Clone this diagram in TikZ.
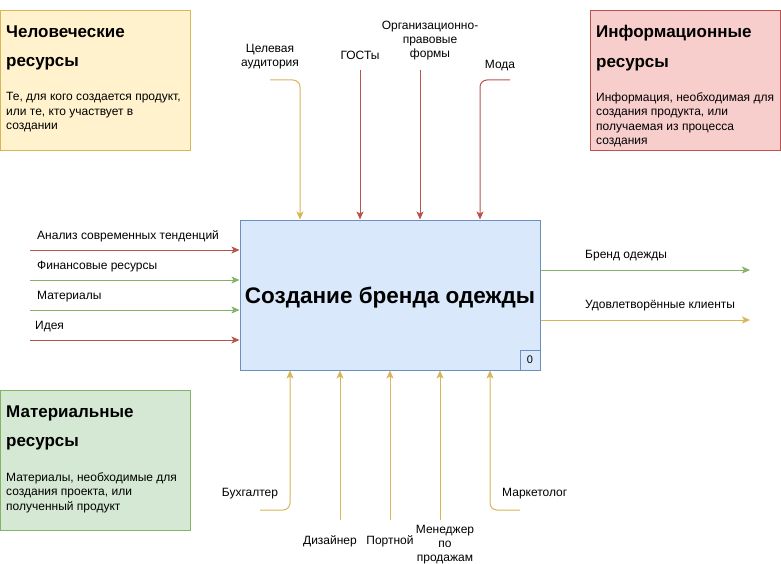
\documentclass[tikz,border=0pt]{standalone}
\usepackage{fontspec}
\setmainfont{Liberation Sans}
\usetikzlibrary{arrows.meta,calc}

\definecolor{yfill}{HTML}{FFF2CC}
\definecolor{ydraw}{HTML}{D6B656}
\definecolor{rfill}{HTML}{F8CECC}
\definecolor{rdraw}{HTML}{B85450}
\definecolor{gfill}{HTML}{D5E8D4}
\definecolor{gdraw}{HTML}{82B366}
\definecolor{bfill}{HTML}{DAE8FC}
\definecolor{bdraw}{HTML}{6C8EBF}

\tikzset{
  lbl/.style={inner sep=0pt, font=\fontsize{12}{14}\selectfont},
  mlbl/.style={lbl, align=center, anchor=north},
  heading/.style={inner sep=0pt, anchor=north west, align=left,
    font=\fontsize{17}{29.5}\selectfont\bfseries},
  bodytext/.style={inner sep=0pt, anchor=north west, align=left,
    font=\fontsize{12}{14.5}\selectfont},
  resbox/.style={draw, line width=1pt, minimum width=190pt, minimum height=140pt,
    anchor=north west, inner sep=0pt},
  flow/.style={line width=1pt, -{Stealth[length=8pt,width=7pt,inset=2pt]}},
  redflow/.style={flow, draw=rdraw, -{Stealth[length=8pt,width=7pt,inset=2pt,fill=rdraw]}},
  greenflow/.style={flow, draw=gdraw, -{Stealth[length=8pt,width=7pt,inset=2pt,fill=gdraw]}},
  yellowflow/.style={flow, draw=ydraw, -{Stealth[length=8pt,width=7pt,inset=2pt,fill=ydraw]}},
}

\begin{document}
\begin{tikzpicture}[x=1pt, y=-1pt]
\useasboundingbox (0,0) rectangle (781,564);

% resource legend boxes
\node[resbox, fill=yfill, draw=ydraw] (human) at (0,10) {};
\node[heading] (humanh) at (6,25.3) {Человеческие\\ресурсы};
\node[bodytext] (humanb) at (6,92.4) {Те, для кого создается продукт,\\или те, кто участвует в\\создании};

\node[resbox, fill=rfill, draw=rdraw] (info) at (590,10) {};
\node[heading] (infoh) at (596,25.3) {Информационные\\ресурсы};
\node[bodytext] (infob) at (596,92.4) {Информация, необходимая для\\создания продукта, или\\получаемая из процесса\\создания};

\node[resbox, fill=gfill, draw=gdraw] (mat) at (0,390) {};
\node[heading] (math) at (6,405.3) {Материальные\\ресурсы};
\node[bodytext] (matb) at (6,472.4) {Материалы, необходимые для\\создания проекта, или\\полученный продукт};

% main function block
\node[draw=bdraw, fill=bfill, line width=1pt, minimum width=300pt, minimum height=150pt,
      inner sep=0pt] (main) at (390,295) {};
\node[inner sep=0pt, anchor=base, font=\fontsize{22.5}{26}\selectfont\bfseries] (title)
      at (390,303.8) {Создание бренда одежды};
\node[draw=bdraw, line width=1pt, minimum width=20pt, minimum height=20pt, inner sep=0pt,
      anchor=south east, font=\fontsize{11}{13}\selectfont] (num) at (main.south east) {0};

% inputs
\coordinate (in1) at (30,250);
\coordinate (in2) at (30,280);
\coordinate (in3) at (30,310);
\coordinate (in4) at (30,340);
\draw[redflow]   (in1) -- (in1 -| main.west);
\draw[greenflow] (in2) -- (in2 -| main.west);
\draw[greenflow] (in3) -- (in3 -| main.west);
\draw[redflow]   (in4) -- (in4 -| main.west);
\node[lbl, anchor=base west] (lin1) at (37,239.3) {Анализ современных тенденций};
\node[lbl, anchor=base west] (lin2) at (37,269.3) {Финансовые ресурсы};
\node[lbl, anchor=base west] (lin3) at (37,299.3) {Материалы};
\node[lbl, anchor=base west] (lin4) at (35,329.3) {Идея};

% outputs
\coordinate (out1) at (750,270);
\coordinate (out2) at (750,320);
\draw[greenflow]  (out1 -| main.east) -- (out1);
\draw[yellowflow] (out2 -| main.east) -- (out2);
\node[lbl, anchor=base west] (lout1) at (585,258.3) {Бренд одежды};
\node[lbl, anchor=base west] (lout2) at (585,308.5) {Удовлетворённые клиенты};

% controls
\coordinate (ct1) at (270,80);
\coordinate (ct1k) at (300,80);
\coordinate (ct2) at (360,70);
\coordinate (ct3) at (420,70);
\coordinate (ct4) at (510,80);
\coordinate (ct4k) at (480,80);
\draw[yellowflow, rounded corners=7pt] (ct1) -- (ct1k) -- (ct1k |- main.north);
\draw[redflow] (ct2) -- (ct2 |- main.north);
\draw[redflow] (ct3) -- (ct3 |- main.north);
\draw[redflow, rounded corners=7pt] (ct4) -- (ct4k) -- (ct4k |- main.north);
\node[mlbl] (lct1) at (270,43.7) {Целевая\\аудитория};
\node[lbl, anchor=base] (lct2) at (360,59.3) {ГОСТы};
\node[mlbl] (lct3) at (430,21.4) {Организационно-\\правовые\\формы};
\node[lbl, anchor=base] (lct4) at (500,68.3) {Мода};

% mechanisms
\coordinate (mc1) at (260,510);
\coordinate (mc1k) at (290,510);
\coordinate (mc2) at (340,520);
\coordinate (mc3) at (390,520);
\coordinate (mc4) at (440,520);
\coordinate (mc5) at (520,510);
\coordinate (mc5k) at (490,510);
\draw[yellowflow, rounded corners=7pt] (mc1) -- (mc1k) -- (mc1k |- main.south);
\draw[yellowflow] (mc2) -- (mc2 |- main.south);
\draw[yellowflow] (mc3) -- (mc3 |- main.south);
\draw[yellowflow] (mc4) -- (mc4 |- main.south);
\draw[yellowflow, rounded corners=7pt] (mc5) -- (mc5k) -- (mc5k |- main.south);
\node[lbl, anchor=base] (lmc1) at (250,496.5) {Бухгалтер};
\node[lbl, anchor=base] (lmc2) at (330,544.3) {Дизайнер};
\node[lbl, anchor=base] (lmc3) at (390,544.3) {Портной};
\node[mlbl] (lmc4) at (445,524.7) {Менеджер\\по\\продажам};
\node[lbl, anchor=base west] (lmc5) at (502,496.5) {Маркетолог};
\end{tikzpicture}
\end{document}
